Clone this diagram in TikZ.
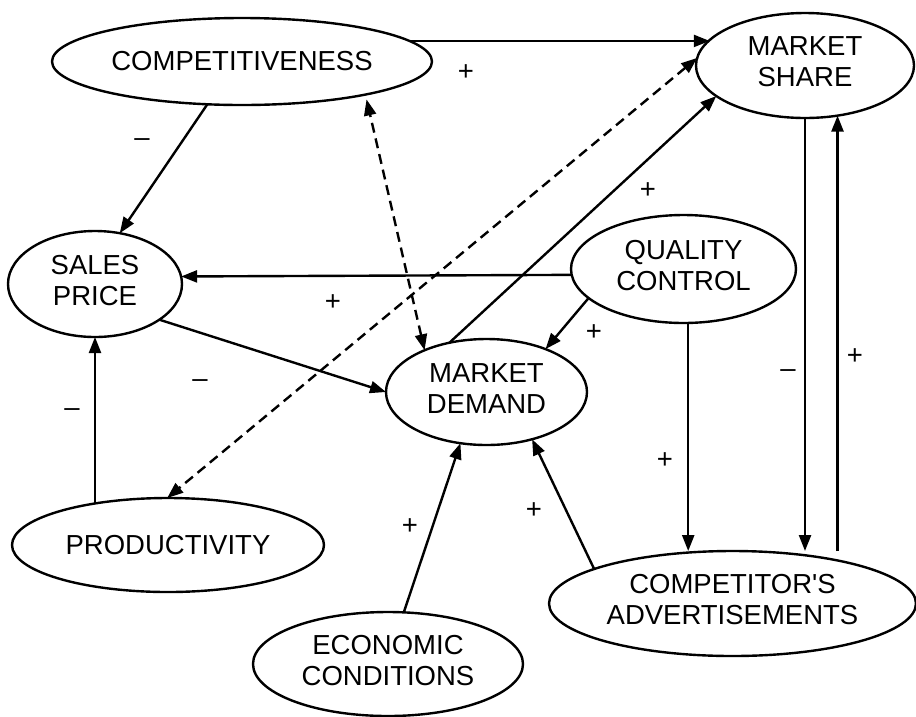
\documentclass[tikz,border=0pt]{standalone}
\usepackage{fontspec}
\setmainfont{Liberation Sans}
\usetikzlibrary{arrows.meta,shapes.geometric}
\newcommand{\twoline}[2]{\raisebox{0.5pt}[\height][\depth]{\begin{tabular}{@{}c@{}}#1\\#2\end{tabular}}}
\begin{document}
\begin{tikzpicture}[x=1pt,y=-1pt,
  every node/.style={font=\fontsize{27.5}{31}\selectfont},
  ell/.style={ellipse, draw, line width=2.4pt, inner sep=0pt, outer sep=0pt},
  tip/.tip={Triangle[length=16pt,width=12pt]},
  conn/.style={line width=2.4pt, -tip},
  dconn/.style={line width=2.4pt, tip-tip, dash pattern=on 10pt off 6pt},
  sign/.style={inner sep=0pt}
]
\useasboundingbox (0,0) rectangle (916,716);

\node[ell, minimum width=380pt, minimum height=87pt] (comp) at (242,61.5) {COMPETITIVENESS};
\node[ell, minimum width=218pt, minimum height=105pt] (ms) at (805,65.5) {\twoline{MARKET}{SHARE}};
\node[ell, minimum width=174pt, minimum height=106pt] (sp) at (95,284) {\twoline{SALES}{PRICE}};
\node[ell, minimum width=225pt, minimum height=108pt] (qc) at (683.5,269) {\twoline{QUALITY}{CONTROL}};
\node[ell, minimum width=201pt, minimum height=106pt] (md) at (486.5,392) {\twoline{MARKET}{DEMAND}};
\node[ell, minimum width=312pt, minimum height=94pt] (prod) at (168,545) {PRODUCTIVITY};
\node[ell, minimum width=367pt, minimum height=105pt] (ca) at (732.5,603.5) {\twoline{COMPETITOR\textquotesingle S}{ADVERTISEMENTS}};
\node[ell, minimum width=270pt, minimum height=104pt] (ec) at (388,664) {\twoline{ECONOMIC}{CONDITIONS}};

% connectors
\draw[conn] (comp.7) -- (comp.7 -| ms.165.4);
\draw[conn] (comp.231.2) -- (sp.64.3);
\draw[conn] (qc.183.6) -- (sp.5.3);
\draw[conn] (sp.331.4) -- (md.west);
\draw[conn] (sp.south |- prod.149.9) -- (sp.south);
\draw[dconn, shorten >=5pt] (md.146.7) -- (comp.345.1);
\draw[dconn] (ms.176.6) -- (prod.91);
\draw[conn] (md.127.6) -- (ms.199.1);
\draw[conn] (qc.197.3) -- (md.36);
\draw[conn] (qc.275) -- (qc.275 |- ca.north);
\draw[conn] (ms.south) -- (ms.south |- ca.north);
\draw[conn] (ms.303.4 |- ca.north) -- (ms.303.4);
\draw[conn] (ca.166) -- (md.314.7);
\draw[conn] (ec.73.9) -- (md.243.4);

% signs
\node[sign] (s1) at (466,73) {+};
\node[sign] (s2) at (142,143) {--};
\node[sign] (s3) at (648,191) {+};
\node[sign] (s4) at (333,303) {+};
\node[sign] (s5) at (594,333) {+};
\node[sign] (s6) at (200,384) {--};
\node[sign] (s7) at (72,413) {--};
\node[sign] (s8) at (788,374) {--};
\node[sign] (s9) at (855,357) {+};
\node[sign] (s10) at (665,461) {+};
\node[sign] (s11) at (534,511) {+};
\node[sign] (s12) at (410,527) {+};
\end{tikzpicture}
\end{document}
